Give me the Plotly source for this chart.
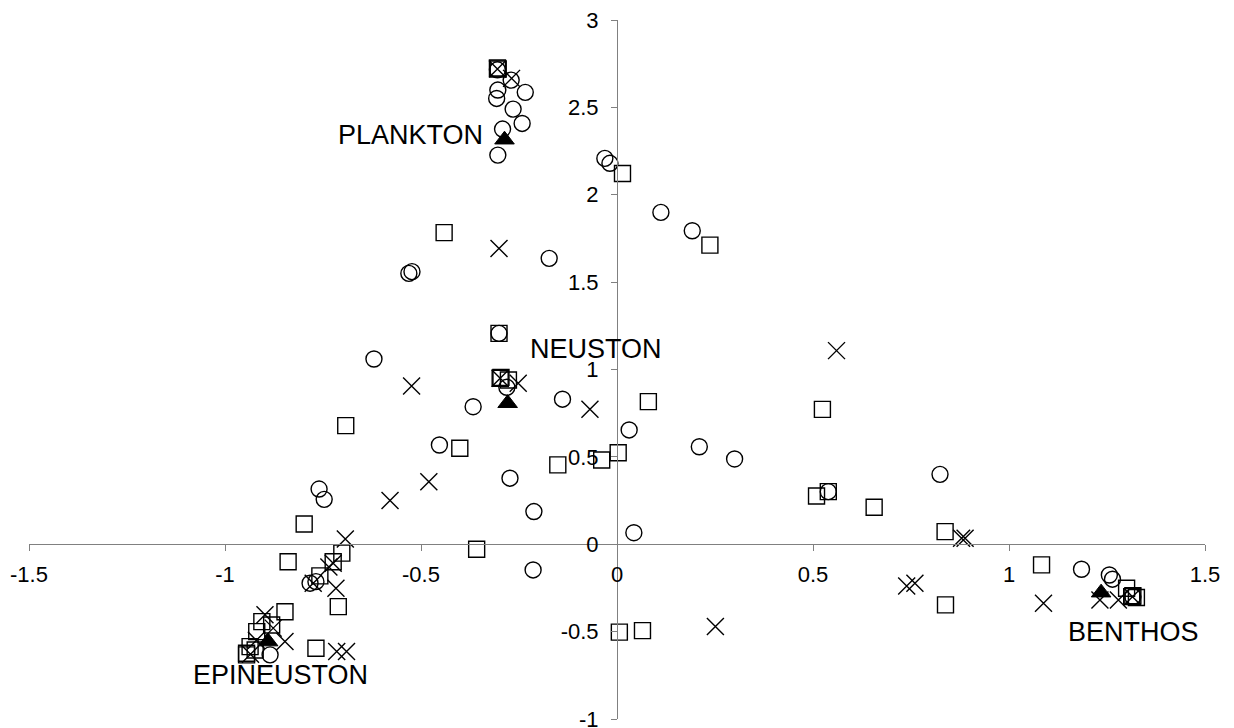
import plotly.graph_objects as go

# ---- data ----
circle_x = [-0.305, -0.270, -0.304, -0.234, -0.307, -0.265, -0.242, -0.292, -0.304, -0.031,
            -0.018, 0.112, 0.192, -0.173, -0.531, -0.523, -0.301, -0.281, -0.620, -0.367,
            -0.139, 0.031, -0.453, -0.273, -0.760, -0.747, -0.212, 0.043, 0.210, 0.300,
            0.539, 0.824, 1.185, 1.256, 1.264, 1.316, -0.783, -0.768, -0.885, -0.214]
circle_y = [2.715, 2.656, 2.599, 2.586, 2.551, 2.490, 2.408, 2.376, 2.227, 2.208,
            2.180, 1.899, 1.794, 1.636, 1.550, 1.560, 1.207, 0.898, 1.060, 0.787,
            0.830, 0.654, 0.568, 0.378, 0.316, 0.257, 0.187, 0.066, 0.558, 0.488,
            0.301, 0.400, -0.143, -0.176, -0.200, -0.300, -0.223, -0.214, -0.633, -0.147]

square_x = [-0.305, -0.303, 0.014, 0.237, -0.441, -0.301, -0.298, -0.296, -0.277, 0.080,
            -0.692, -0.401, 0.003, -0.039, -0.151, -0.798, -0.358, 0.524, 0.509, 0.539,
            0.656, 0.006, 0.065, 0.837, 0.838, 1.083, 1.300, 1.313, 1.316, 1.325,
            -0.702, -0.724, -0.839, -0.758, -0.711, -0.847, -0.881, -0.906, -0.919, -0.936,
            -0.945, -0.945, -0.923, -0.768]
square_y = [2.725, 2.720, 2.122, 1.712, 1.783, 1.207, 0.950, 0.955, 0.940, 0.816,
            0.679, 0.549, 0.524, 0.482, 0.454, 0.116, -0.029, 0.772, 0.276, 0.301,
            0.212, -0.503, -0.494, 0.072, -0.347, -0.118, -0.252, -0.300, -0.295, -0.305,
            -0.051, -0.100, -0.100, -0.181, -0.357, -0.386, -0.462, -0.443, -0.500, -0.586,
            -0.633, -0.624, -0.605, -0.595]

cross_x = [-0.305, -0.269, -0.301, -0.298, -0.252, -0.524, -0.069, -0.480, -0.579, -0.693,
           0.560, 0.251, 0.879, 0.888, 0.739, 0.760, 1.088, 1.232, 1.279, 1.315,
           -0.724, -0.735, -0.775, -0.717, -0.898, -0.877, -0.847, -0.715, -0.690, -0.920,
           -0.935]
cross_y = [2.720, 2.666, 1.693, 0.950, 0.921, 0.906, 0.772, 0.358, 0.250, 0.030,
           1.108, -0.471, 0.034, 0.034, -0.239, -0.223, -0.338, -0.319, -0.319, -0.300,
           -0.109, -0.130, -0.223, -0.252, -0.404, -0.480, -0.557, -0.614, -0.614, -0.550,
           -0.630]

centroid_x = [-0.287, -0.279, 1.235, -0.890]
centroid_y = [2.315, 0.807, -0.277, -0.557]

label_text = ["PLANKTON", "NEUSTON", "EPINEUSTON", "BENTHOS"]
label_x = [-0.528, -0.054, -0.858, 1.318]
label_y = [2.342, 1.116, -0.749, -0.500]

x_ticks = [-1.5, -1, -0.5, 0, 0.5, 1, 1.5]
x_ticktext = ["-1.5", "-1", "-0.5", "0", "0.5", "1", "1.5"]
y_ticks = [-1, -0.5, 0, 0.5, 1, 1.5, 2, 2.5, 3]
y_ticktext = ["-1", "-0.5", "0", "0.5", "1", "1.5", "2", "2.5", "3"]

# ---- figure ----
fig = go.Figure()
ln = dict(color="black", width=1.4)
fig.add_trace(go.Scatter(x=circle_x, y=circle_y, mode="markers", cliponaxis=False,
                         marker=dict(symbol="circle-open", size=16, color="black", line=ln)))
fig.add_trace(go.Scatter(x=square_x, y=square_y, mode="markers", cliponaxis=False,
                         marker=dict(symbol="square-open", size=16, color="black", line=ln)))
fig.add_trace(go.Scatter(x=cross_x, y=cross_y, mode="markers", cliponaxis=False,
                         marker=dict(symbol="x-thin", size=17, color="black", line=ln)))
fig.add_trace(go.Scatter(x=centroid_x, y=centroid_y, mode="markers", cliponaxis=False,
                         marker=dict(symbol="triangle-up", size=17, color="black",
                                     line=dict(color="black", width=1))))

for t, lx, ly in zip(label_text, label_x, label_y):
    fig.add_annotation(x=lx, y=ly, text=t, showarrow=False, xref="x", yref="y",
                       font=dict(family="Liberation Sans, Arial", size=27, color="black"))

axis_common = dict(showgrid=False, zeroline=False, showline=True, linecolor="#808080",
                   linewidth=1, ticks="outside", ticklen=6, tickcolor="#808080",
                   ticklabeloverflow="allow", automargin=False,
                   tickfont=dict(family="Liberation Sans, Arial", size=22, color="black"))

fig.update_layout(
    width=1226, height=720,
    margin=dict(l=21, r=29, t=12, b=9),
    paper_bgcolor="white", plot_bgcolor="white",
    showlegend=False,
    xaxis=dict(range=[-1.5, 1.5], tickvals=x_ticks, ticktext=x_ticktext,
               anchor="free", position=0.25, ticklabelstandoff=4, **axis_common),
    yaxis=dict(range=[-1, 3], tickvals=y_ticks, ticktext=y_ticktext,
               anchor="free", position=0.5, ticklabelstandoff=8, **axis_common),
)

fig.write_html("out.html")
